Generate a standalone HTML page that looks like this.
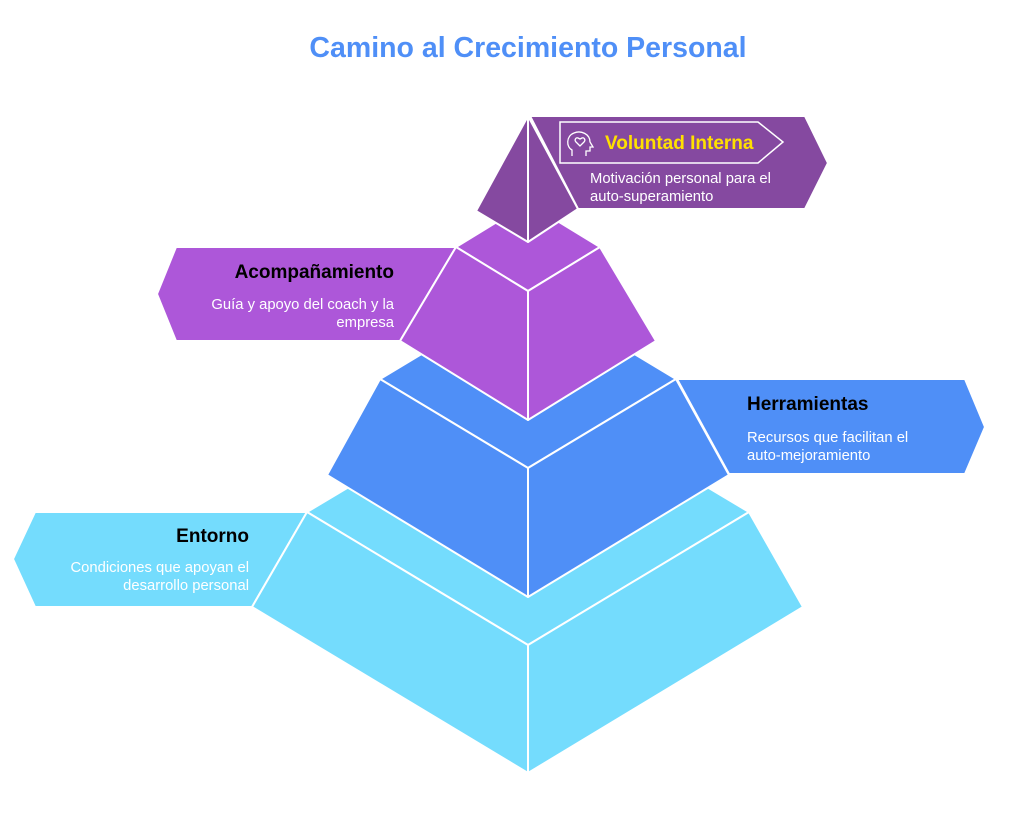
<!DOCTYPE html>
<html><head><meta charset="utf-8"><style>
html,body{margin:0;padding:0;background:#fff;width:1024px;height:832px;overflow:hidden}
svg text{font-family:"Liberation Sans",sans-serif}
</style></head><body>
<svg width="1024" height="832" viewBox="0 0 1024 832" xmlns="http://www.w3.org/2000/svg">
<text x="528" y="57" text-anchor="middle" font-size="28.5" font-weight="bold" fill="#4F8FF7">Camino al Crecimiento Personal</text>
<g stroke="#fff" stroke-width="2" stroke-linejoin="round">
<polygon points="35,512 307,512 252,607 35,607 13,559" fill="#74DCFD"/>
<polygon points="307,512 528,380 749,512 528,645" fill="#74DCFD"/>
<polygon points="307,512 528,645 528,773 252,607" fill="#74DCFD"/>
<polygon points="749,512 528,645 528,773 803,607" fill="#74DCFD"/>
<polygon points="677,379 965,379 985,427 965,474 729,474" fill="#4F8FF7"/>
<polygon points="380,379 528,290 676,379 528,468" fill="#4F8FF7"/>
<polygon points="380,379 528,468 528,597 327,475" fill="#4F8FF7"/>
<polygon points="676,379 528,468 528,597 729,475" fill="#4F8FF7"/>
<polygon points="176,247 456,247 400,341 176,341 157,294" fill="#AD57D9"/>
<polygon points="456,247 528,203 600,247 528,291" fill="#AD57D9"/>
<polygon points="456,247 528,291 528,420 400,341" fill="#AD57D9"/>
<polygon points="600,247 528,291 528,420 656,341" fill="#AD57D9"/>
<polygon points="530,116 805,116 828,163 805,209 578,209" fill="#8549A0"/>
<polygon points="528,116 476,211 528,242" fill="#8549A0"/>
<polygon points="528,116 578,209 528,242" fill="#8549A0"/>
</g>
<polygon points="560,122 758,122 783,142 758,163 560,163" fill="none" stroke="#fff" stroke-width="1.5"/>
<g fill="none" stroke="#fff" stroke-width="1.3">
<path d="M572,156 v-6 c-6,-3 -6,-14 2,-17 c7,-3 16,1 16,9 l3,5 h-3 v4 h-4 v5"/>
<path d="M580,146 l-4,-4 c-2,-2 0,-5 2,-4 l2,1 l2,-1 c2,-1 4,2 2,4 z"/>
</g>
<text x="605" y="149" font-size="19" font-weight="bold" fill="#FFE000">Voluntad Interna</text>
<text x="590" y="183" font-size="14.8" fill="#fff">Motivación personal para el</text>
<text x="590" y="201" font-size="14.8" fill="#fff">auto-superamiento</text>
<text x="394" y="278" text-anchor="end" font-size="19" font-weight="bold" fill="#000">Acompañamiento</text>
<text x="394" y="309" text-anchor="end" font-size="14.8" fill="#fff">Guía y apoyo del coach y la</text>
<text x="394" y="327" text-anchor="end" font-size="14.8" fill="#fff">empresa</text>
<text x="747" y="410" font-size="19" font-weight="bold" fill="#000">Herramientas</text>
<text x="747" y="442" font-size="14.8" fill="#fff">Recursos que facilitan el</text>
<text x="747" y="460" font-size="14.8" fill="#fff">auto-mejoramiento</text>
<text x="249" y="542" text-anchor="end" font-size="19" font-weight="bold" fill="#000">Entorno</text>
<text x="249" y="572" text-anchor="end" font-size="14.8" fill="#fff">Condiciones que apoyan el</text>
<text x="249" y="590" text-anchor="end" font-size="14.8" fill="#fff">desarrollo personal</text>
</svg>
</body></html>
